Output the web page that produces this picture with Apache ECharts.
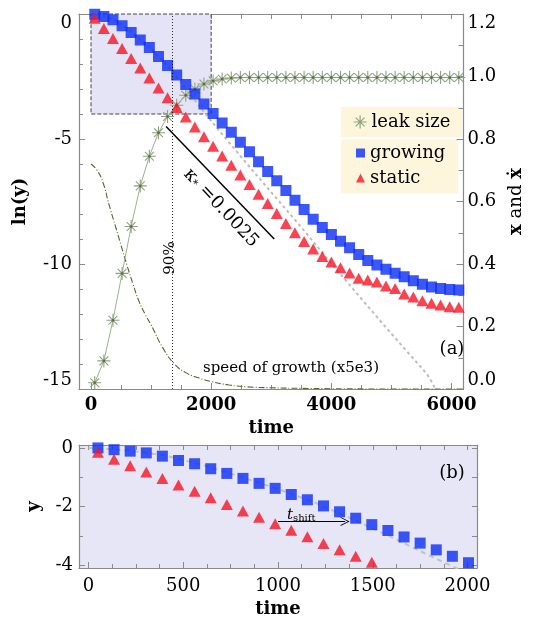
<!DOCTYPE html>
<html><head><meta charset="utf-8">
<script src="https://cdn.jsdelivr.net/npm/echarts@6/dist/echarts.min.js"></script>
<style>html,body{margin:0;padding:0;background:#fff}#c{width:533px;height:619px}</style>
</head><body><div id="c"></div>
<script>
// ---------- data ----------
const tTop = [62,214,365,517,668,820,971,1123,1274,1426,1577,1729,1880,2032,2183,2335,2486,2638,2789,2941,3092,3244,3395,3547,3698,3850,4001,4153,4304,4456,4607,4759,4910,5062,5213,5365,5516,5668,5819,5971,6122];
const growingTop = [-0.01,-0.10,-0.23,-0.47,-0.74,-1.04,-1.34,-1.70,-2.06,-2.44,-2.82,-3.20,-3.60,-3.98,-4.36,-4.73,-5.13,-5.51,-5.91,-6.30,-6.67,-7.06,-7.45,-7.82,-8.21,-8.54,-8.82,-9.09,-9.35,-9.62,-9.86,-10.04,-10.21,-10.37,-10.51,-10.67,-10.81,-10.92,-10.98,-11.02,-11.04];
const staticTop = [-0.17,-0.58,-0.98,-1.38,-1.78,-2.16,-2.56,-2.96,-3.35,-3.74,-4.12,-4.52,-4.91,-5.29,-5.68,-6.05,-6.44,-6.82,-7.21,-7.58,-7.98,-8.38,-8.75,-9.10,-9.40,-9.70,-9.92,-10.15,-10.36,-10.57,-10.64,-10.72,-10.88,-10.98,-11.20,-11.32,-11.47,-11.57,-11.64,-11.71,-11.73];
const leakSize = [0.02,0.09,0.22,0.37,0.52,0.65,0.745,0.82,0.872,0.908,0.94,0.96,0.976,0.986,0.992,0.995,0.997,0.997,0.997,0.997,0.997,0.997,0.997,0.997,0.997,0.997,0.997,0.997,0.997,0.997,0.997,0.997,0.997,0.997,0.997,0.997,0.997,0.997,0.997,0.997,0.997];
const grayT = [0,200,400,600,800,1000,1200,1400,1600,1800,2000,2500,3000,3500,4000,4500,5000,5500,5600,5680,5730];
const grayY = [0,-0.08,-0.25,-0.58,-0.98,-1.40,-1.88,-2.45,-3.05,-3.68,-4.28,-5.72,-7.13,-8.53,-9.98,-11.39,-12.79,-14.15,-14.43,-14.75,-15.0];
const speedT = [0,100,200,300,400,500,600,700,800,900,1000,1200,1400,1600,1800,2000,2300,2600,3000,3500,4000,5000,6200];
const speedY = [0.72,0.70,0.66,0.59,0.525,0.46,0.395,0.335,0.28,0.24,0.205,0.13,0.078,0.05,0.035,0.024,0.013,0.007,0.004,0.002,0.001,0,0];
const tBot = [50,135,220,305,390,475,560,645,730,815,900,985,1070,1155,1240,1325,1410,1495,1580,1665,1750,1835,1920,2005];
const growingBot = [0,-0.06,-0.11,-0.17,-0.28,-0.43,-0.54,-0.71,-0.87,-1.04,-1.21,-1.38,-1.59,-1.77,-1.98,-2.18,-2.40,-2.62,-2.82,-3.04,-3.25,-3.48,-3.70,-3.92];
const staticBot = [-0.15,-0.39,-0.61,-0.82,-1.04,-1.27,-1.48,-1.70,-1.93,-2.15,-2.37,-2.59,-2.81,-3.03,-3.26,-3.48,-3.70,-3.90];
const slopeLine = [[1250,-4.5],[3050,-9.0]];      // kappa* = 0.0025 guide
const ninetyPct = 1360;                           // time where leak reaches 90%
const shiftArrow = [[1000,-2.51],[1354,-2.51]];   // t_shift arrow
const zoomBox = [[0,0],[2000,-4]];
// tick labels
const xMajTop = [0,2000,4000,6000];
const xMinTop = [500,1000,1500,2500,3000,3500,4500,5000,5500];
const xAllTop = [0,500,1000,1500,2000,2500,3000,3500,4000,4500,5000,5500,6000];
const xMajBot = [0,500,1000,1500,2000];
const xMinBot = [125,250,375,625,750,875,1125,1250,1375,1625,1750,1875];
const xAllBot = [0,125,250,375,500,625,750,875,1000,1125,1250,1375,1500,1625,1750,1875,2000];
const yMajBot = [0,-2,-4];
const yMinBot = [-1,-3];
const yAllBot = [0,-1,-2,-3,-4];

// ---------- helpers ----------
const pairs = (xs, ys) => ys.map((y, i) => [xs[i], y]);
const FONT = 'DejaVu Serif';
const AX = '#8a8a8a';
const STAR = 'path://M5,0L5,10M0,5L10,5M1.6,1.6L8.4,8.4M8.4,1.6L1.6,8.4';
const CHEV = 'path://M0,10L5,0L10,10L9,10L5,2L1,10Z';
const plain = v => String(v);
const lbl = (extra) => Object.assign({fontFamily: FONT, fontSize: 18, color: '#000'}, extra || {});
const line = {show: true, onZero: false, lineStyle: {color: AX, width: 1.2}};
const noLine = {show: false, onZero: false};
function tickAxis(grid, pos, min, max, vals, len, showLine) {
  return {gridIndex: grid, type: 'value', position: pos, min: min, max: max,
    axisLine: showLine ? line : noLine,
    axisTick: {show: true, inside: true, length: len, customValues: vals, lineStyle: {color: AX, width: 1}},
    axisLabel: {show: false}, splitLine: {show: false}};
}

const chart = echarts.init(document.getElementById('c'), null, {renderer: 'canvas'});
const option = {
  animation: false,
  backgroundColor: '#fff',
  grid: [
    {left: 79, top: 14, width: 398, height: 375},
    {left: 79, top: 445, width: 398, height: 127, show: true, backgroundColor: '#e6e6f7', borderWidth: 0}
  ],
  xAxis: [
    {gridIndex: 0, type: 'value', position: 'bottom', min: -200, max: 6200,
      axisLine: line,
      axisTick: {show: true, inside: true, length: 6, customValues: xMajTop, lineStyle: {color: AX}},
      axisLabel: Object.assign(lbl({fontWeight: 'bold'}), {customValues: xMajTop, margin: 7, formatter: plain}),
      splitLine: {show: false},
      name: 'time', nameLocation: 'middle', nameGap: 30, nameTextStyle: lbl({fontWeight: 'bold'})},
    tickAxis(0, 'bottom', -200, 6200, xMinTop, 4, false),
    tickAxis(0, 'top', -200, 6200, xAllTop, 5, true),
    {gridIndex: 1, type: 'value', position: 'bottom', min: -50, max: 2050,
      axisLine: line,
      axisTick: {show: true, inside: true, length: 6, customValues: xMajBot, lineStyle: {color: AX}},
      axisLabel: Object.assign(lbl(), {customValues: xMajBot, margin: 9, formatter: plain}),
      splitLine: {show: false},
      name: 'time', nameLocation: 'middle', nameGap: 32, nameTextStyle: lbl({fontWeight: 'bold'})},
    tickAxis(1, 'bottom', -50, 2050, xMinBot, 4, false),
    tickAxis(1, 'top', -50, 2050, xAllBot, 5, true)
  ],
  yAxis: [
    {gridIndex: 0, type: 'value', position: 'left', min: -15, max: 0, interval: 5,
      axisLine: line,
      axisTick: {show: true, inside: true, length: 6, lineStyle: {color: AX}},
      minorTick: {show: true, splitNumber: 5, length: 4, lineStyle: {color: AX}},
      axisLabel: Object.assign(lbl(), {margin: 7, verticalAlignMinLabel: 'bottom', verticalAlignMaxLabel: 'top'}),
      splitLine: {show: false}, minorSplitLine: {show: false},
      name: 'ln(y)', nameLocation: 'middle', nameRotate: 90, nameGap: 50, nameTextStyle: lbl({fontWeight: 'bold'})},
    {gridIndex: 0, type: 'value', position: 'right', min: 0, max: 1.2, interval: 0.2,
      axisLine: line,
      axisTick: {show: true, inside: true, length: 7, lineStyle: {color: AX}},
      minorTick: {show: true, splitNumber: 2, length: 5, lineStyle: {color: AX}},
      axisLabel: Object.assign(lbl(), {margin: 4, formatter: v => v.toFixed(1), verticalAlignMinLabel: 'bottom', verticalAlignMaxLabel: 'top'}),
      splitLine: {show: false}, minorSplitLine: {show: false},
      name: '{b|x} and {b|\u1E8B}', nameLocation: 'middle', nameRotate: 90, nameGap: 33,
      nameTextStyle: lbl({rich: {b: {fontFamily: FONT, fontSize: 18, fontWeight: 'bold', color: '#000'}}})},
    {gridIndex: 1, type: 'value', position: 'left', min: -4.1, max: 0.1,
      axisLine: line,
      axisTick: {show: true, inside: true, length: 6, customValues: yMajBot, lineStyle: {color: AX}},
      axisLabel: Object.assign(lbl(), {customValues: yMajBot, margin: 6}),
      splitLine: {show: false},
      name: 'y', nameLocation: 'middle', nameRotate: 90, nameGap: 36, nameTextStyle: lbl({fontWeight: 'bold'})},
    tickAxis(1, 'left', -4.1, 0.1, yMinBot, 4, false),
    tickAxis(1, 'right', -4.1, 0.1, yAllBot, 5, true)
  ],
  legend: [
    {data: [{name: 'leak size', icon: STAR}], left: 353, top: 113, padding: 0, itemWidth: 13, itemHeight: 13,
      itemStyle: {color: 'transparent', borderColor: '#8fa280', borderWidth: 1.2},
      textStyle: lbl(), selectedMode: false},
    {data: ['growing', 'static'], orient: 'vertical', left: 356, top: 144, padding: 0, itemGap: 7,
      itemWidth: 9, itemHeight: 9, textStyle: lbl(), selectedMode: false}
  ],
  graphic: [
    {type: 'rect', shape: {x: 341, y: 107, width: 121, height: 30}, style: {fill: '#fdf5dc'}, z: 0, silent: true},
    {type: 'rect', shape: {x: 341, y: 139.5, width: 117, height: 54}, style: {fill: '#fdf5dc'}, z: 0, silent: true},
    {type: 'text', x: 452, y: 349, z: 10, style: {text: '(a)', font: '18px "DejaVu Serif"', fill: '#000', align: 'center', verticalAlign: 'middle'}},
    {type: 'text', x: 452, y: 473, z: 10, style: {text: '(b)', font: '18px "DejaVu Serif"', fill: '#000', align: 'center', verticalAlign: 'middle'}},
    {type: 'text', x: 291, y: 368, z: 10, style: {text: 'speed of growth (x5e3)', font: '15px "DejaVu Serif"', fill: '#000', align: 'center', verticalAlign: 'middle'}},
    {type: 'text', x: 170, y: 258, rotation: Math.PI / 2, z: 10, style: {text: '90%', font: '15px "DejaVu Serif"', fill: '#000', align: 'center', verticalAlign: 'middle'}},
    {type: 'text', x: 221, y: 208, rotation: -0.82, z: 10, style: {
      text: '{k|\u03BA}{s|*}{n| =0.0025}', align: 'center', verticalAlign: 'middle',
      rich: {k: {fontFamily: FONT, fontSize: 18, fill: '#000'}, s: {fontFamily: FONT, fontSize: 11, fill: '#000', verticalAlign: 'bottom'}, n: {fontFamily: FONT, fontSize: 18, fill: '#000'}}}},
    {type: 'text', x: 287, y: 523, z: 10, style: {
      text: '{t|t}{s|shift}', align: 'left', verticalAlign: 'bottom',
      rich: {t: {fontFamily: FONT, fontSize: 15, fontStyle: 'italic', fill: '#000'}, s: {fontFamily: FONT, fontSize: 10, fill: '#000', verticalAlign: 'bottom'}}}}
  ],
  series: [
    {name: 'model', type: 'line', xAxisIndex: 0, yAxisIndex: 0, data: pairs(grayT, grayY), symbol: 'none', z: 2,
      lineStyle: {color: '#bdbdbd', width: 2, type: [3, 3]},
      markArea: {silent: true, itemStyle: {color: '#e4e4f6', borderColor: '#444', borderWidth: 1, borderType: 'dashed'},
        data: [[{coord: zoomBox[0]}, {coord: zoomBox[1]}]]}},
    {name: 'speed', type: 'line', xAxisIndex: 0, yAxisIndex: 1, data: pairs(speedT, speedY), symbol: 'none', smooth: true, z: 2,
      lineStyle: {color: '#55662c', width: 1.1, type: [6, 2, 1, 2]}},
    {name: 'leak size', type: 'line', xAxisIndex: 0, yAxisIndex: 1, data: pairs(tTop, leakSize), z: 2,
      symbol: STAR, symbolSize: 13, showSymbol: true,
      itemStyle: {color: 'transparent', borderColor: '#8fa280', borderWidth: 1.1},
      lineStyle: {color: '#9db08e', width: 1}},
    {name: 'leak dots', type: 'scatter', xAxisIndex: 0, yAxisIndex: 1, data: pairs(tTop, leakSize), z: 2,
      symbol: 'circle', symbolSize: 2.5, itemStyle: {color: '#4d5e2a'}},
    {name: 'growing', type: 'scatter', xAxisIndex: 0, yAxisIndex: 0, data: pairs(tTop, growingTop), z: 3,
      symbol: 'rect', symbolSize: 11, itemStyle: {color: '#0b2df6'}},
    {name: 'static', type: 'scatter', xAxisIndex: 0, yAxisIndex: 0, data: pairs(tTop, staticTop), z: 3,
      symbol: 'triangle', symbolSize: [12, 11], itemStyle: {color: '#f81424'}},
    {name: 'kappa', type: 'line', xAxisIndex: 0, yAxisIndex: 0, data: slopeLine, symbol: 'none', z: 4,
      lineStyle: {color: '#000', width: 1.5},
      markLine: {silent: true, symbol: 'none', label: {show: false},
        lineStyle: {color: '#000', width: 0.8, type: [1, 2]}, data: [{xAxis: ninetyPct}]}},
    {name: 'model b', type: 'line', xAxisIndex: 3, yAxisIndex: 2, data: pairs(grayT, grayY), symbol: 'none', z: 2,
      lineStyle: {color: '#c2c2c2', width: 2, type: [5, 4]}},
    {name: 'growing b', type: 'scatter', xAxisIndex: 3, yAxisIndex: 2, data: pairs(tBot, growingBot), z: 3,
      symbol: 'rect', symbolSize: 11, itemStyle: {color: '#0b2df6'}},
    {name: 'static b', type: 'scatter', xAxisIndex: 3, yAxisIndex: 2, data: pairs(tBot, staticBot), z: 3,
      symbol: 'triangle', symbolSize: [12, 11], itemStyle: {color: '#f81424'},
      markLine: {silent: true, symbol: ['none', CHEV], symbolSize: 9, label: {show: false},
        lineStyle: {color: '#000', width: 1, type: 'solid'},
        data: [[{coord: shiftArrow[0]}, {coord: shiftArrow[1]}]]}}
  ]
};
chart.setOption(option);
</script></body></html>
